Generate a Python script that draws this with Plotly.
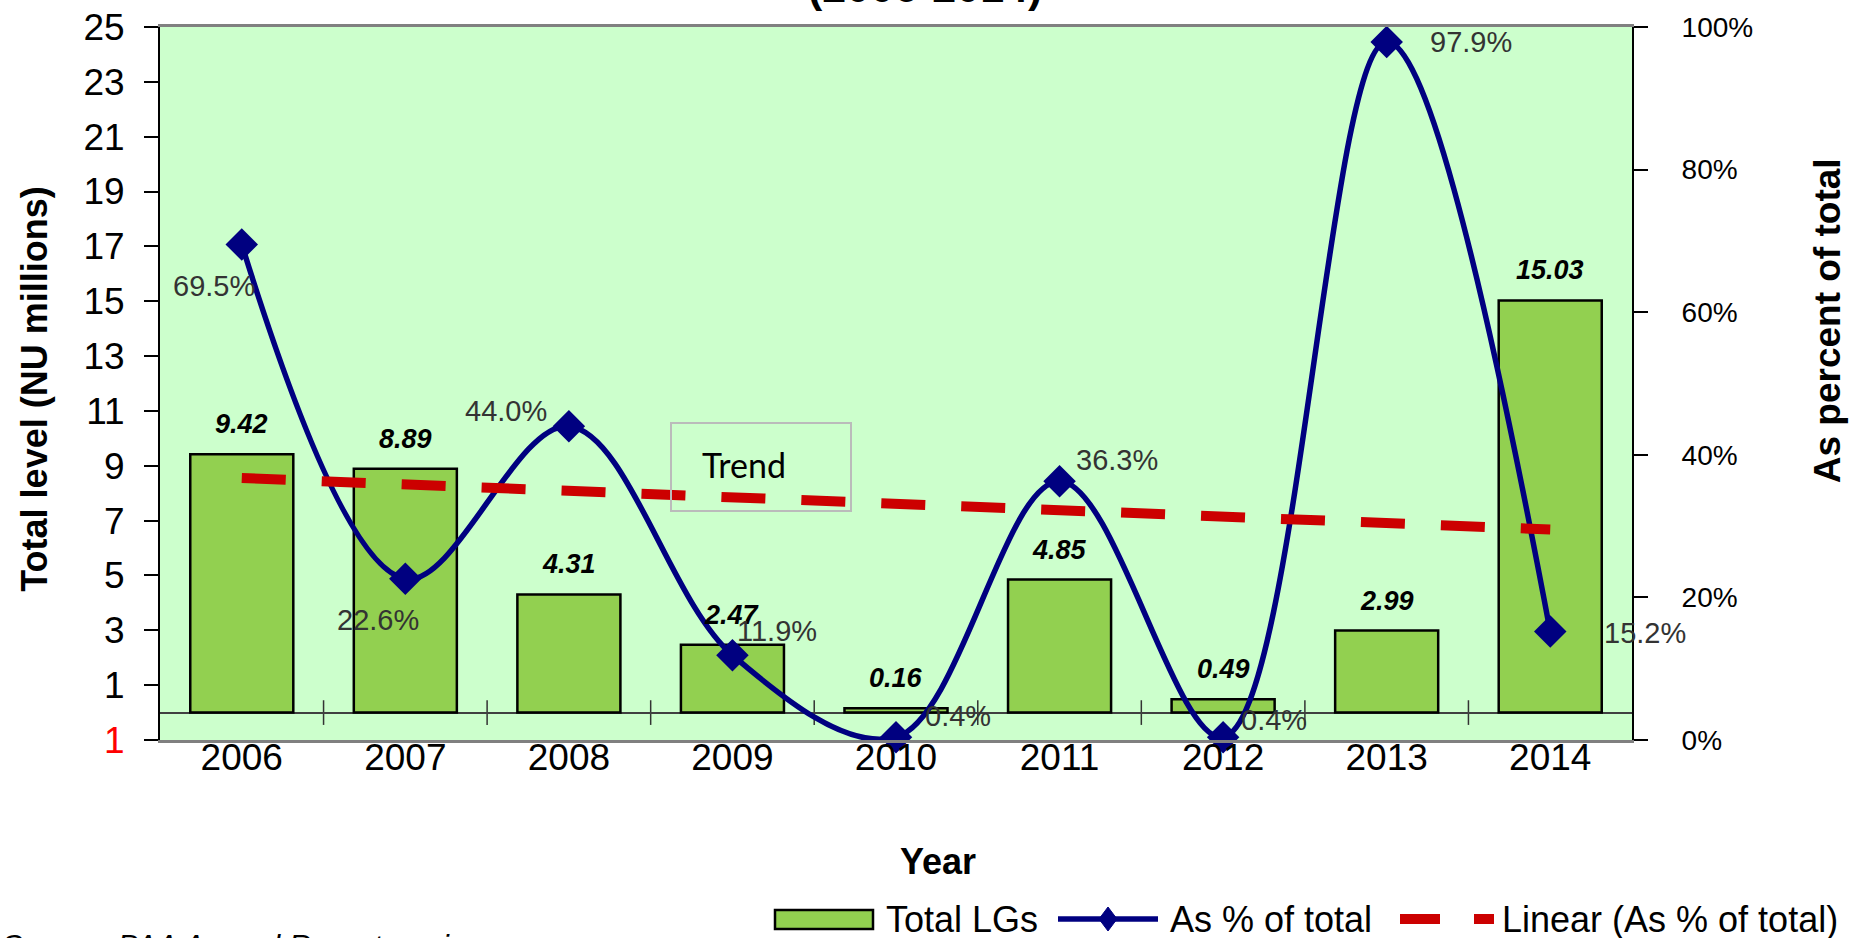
import numpy as np
import plotly.graph_objects as go

years = ["2006", "2007", "2008", "2009", "2010", "2011", "2012", "2013", "2014"]
total_lgs = [9.42, 8.89, 4.31, 2.47, 0.16, 4.85, 0.49, 2.99, 15.03]
pct_of_total = [0.695, 0.226, 0.440, 0.119, 0.004, 0.363, 0.004, 0.979, 0.152]
pct_labels = ["69.5%", "22.6%", "44.0%", "11.9%", "0.4%", "36.3%", "0.4%", "97.9%", "15.2%"]
bar_labels = ["9.42", "8.89", "4.31", "2.47", "0.16", "4.85", "0.49", "2.99", "15.03"]
series_names = ["Total LGs", "As % of total", "Linear (As % of total)"]
left_tickvals = [-1, 1, 3, 5, 7, 9, 11, 13, 15, 17, 19, 21, 23, 25]
left_ticktext = ["<span style='color:#FF0000'>1</span>"] + [str(v) for v in left_tickvals[1:]]
right_tickvals = [0, 0.2, 0.4, 0.6, 0.8, 1.0]

# linear trend of the percentage series (Excel-style linear trendline)
xi = np.arange(len(years))
slope, intercept = np.polyfit(xi, pct_of_total, 1)
trend = list(intercept + slope * xi)

# label offsets (pixels) for the percentage labels
pct_dx = [-28, -27, -63, 45, 62, 57, 51, 84, 95]
pct_dy = [-42, -41, 15, 24, 21, 21, 17, 0, -1]

FONT = "Liberation Sans, Arial, sans-serif"
W, H = 1862, 938
ML, MR, MT, MB = 160, 230, 27, 198
PW, PH = W - ML - MR, H - MT - MB

def px_x(p):
    return (p - ML) / PW

def px_y(p):
    return (H - MB - p) / PH

GREEN, NAVY, RED = "#92D050", "#000080", "#CC0000"

fig = go.Figure()
fig.add_trace(go.Bar(
    x=years, y=total_lgs, name=series_names[0], showlegend=False,
    marker=dict(color=GREEN, line=dict(color="#000000", width=2.5)),
    width=0.63, yaxis="y",
))
fig.add_trace(go.Scatter(
    x=years, y=pct_of_total, name=series_names[1], yaxis="y2", showlegend=False,
    mode="lines+markers", line=dict(color=NAVY, width=5.5, shape="spline", smoothing=1.0),
    marker=dict(symbol="diamond", size=25, color=NAVY),
    cliponaxis=False,
))
fig.add_trace(go.Scatter(
    x=years, y=trend, name=series_names[2], yaxis="y2", showlegend=False,
    mode="lines", line=dict(color=RED, width=10, dash="44px,36px"),
))

annotations = []
for i, (v, t) in enumerate(zip(total_lgs, bar_labels)):
    annotations.append(dict(x=i, y=v, xref="x", yref="y", text="<b><i>%s</i></b>" % t,
                            showarrow=False, yanchor="middle", yshift=30,
                            font=dict(family=FONT, size=27, color="#000000")))
for i, (v, t, dx, dy) in enumerate(zip(pct_of_total, pct_labels, pct_dx, pct_dy)):
    annotations.append(dict(x=i, y=v, xref="x", yref="y2", text=t, showarrow=False,
                            xshift=dx, yshift=dy,
                            font=dict(family=FONT, size=29, color="#333333")))

# axis titles, title fragment, source note
annotations += [
    dict(text="<b>Total level (NU millions)</b>", textangle=-90, xref="paper", yref="paper",
         x=0, y=0.492, xshift=-148, showarrow=False, font=dict(family=FONT, size=36, color="#000")),
    dict(text="<b>As percent of total</b>", textangle=-90, xref="paper", yref="paper",
         x=1, y=0.588, xshift=218, showarrow=False, font=dict(family=FONT, size=37, color="#000")),
    dict(text="<b>Year</b>", xref="paper", yref="paper", x=px_x(938), y=px_y(861),
         xanchor="center", yanchor="middle",
         showarrow=False, font=dict(family=FONT, size=36, color="#000")),
    dict(text="<b>(2006-2014)</b>", xref="paper", yref="paper", x=0.52, y=1, yanchor="bottom",
         yshift=14, showarrow=False, font=dict(family=FONT, size=43, color="#000")),
    dict(text="<i>Source: PAA Annual Report, various years</i>", xref="paper", yref="paper",
         x=0, y=0, xanchor="left", yanchor="top", xshift=-160, yshift=-187,
         showarrow=False, font=dict(family=FONT, size=31, color="#000")),
    dict(text="Trend", xref="paper", yref="paper", x=px_x(700), y=px_y(464),
         xanchor="left", yanchor="middle", showarrow=False,
         font=dict(family="Lato, Open Sans, sans-serif", size=34, color="#000")),
]

shapes = [
    dict(type="rect", xref="paper", yref="paper",
         x0=px_x(671), x1=px_x(851), y0=px_y(511), y1=px_y(423),
         line=dict(color="#BBBBBB", width=2), fillcolor="rgba(0,0,0,0)"),
]
# category-boundary tick marks crossing the zero line
for i in range(len(years) - 1):
    shapes.append(dict(type="line", xref="x", yref="y", x0=i + 0.5, x1=i + 0.5,
                       y0=-0.45, y1=0.45, line=dict(color="#333333", width=1.5), layer="below"))

# legend (drawn as keys + text below the chart)
LEG_Y = 919
shapes += [
    dict(type="rect", xref="paper", yref="paper", x0=px_x(775), x1=px_x(873),
         y0=px_y(929), y1=px_y(910), fillcolor=GREEN, line=dict(color="#000", width=2.5)),
    dict(type="line", xref="paper", yref="paper", x0=px_x(1058), x1=px_x(1158),
         y0=px_y(LEG_Y), y1=px_y(LEG_Y), line=dict(color=NAVY, width=5.5)),
    dict(type="path", xref="paper", yref="paper", fillcolor=NAVY, line=dict(color=NAVY, width=1),
         path="M %f %f L %f %f L %f %f L %f %f Z" % (
             px_x(1108), px_y(LEG_Y - 12), px_x(1117), px_y(LEG_Y),
             px_x(1108), px_y(LEG_Y + 12), px_x(1099), px_y(LEG_Y))),
    dict(type="line", xref="paper", yref="paper", x0=px_x(1400), x1=px_x(1440),
         y0=px_y(LEG_Y), y1=px_y(LEG_Y), line=dict(color=RED, width=10)),
    dict(type="line", xref="paper", yref="paper", x0=px_x(1474), x1=px_x(1494),
         y0=px_y(LEG_Y), y1=px_y(LEG_Y), line=dict(color=RED, width=10)),
]
for name, xpos in zip(series_names, [884, 1168, 1500]):
    annotations.append(dict(text=name, xref="paper", yref="paper", x=px_x(xpos), y=px_y(LEG_Y),
                            xanchor="left", yanchor="middle", showarrow=False,
                            font=dict(family=FONT, size=36, color="#000")))

fig.update_layout(
    width=W, height=H,
    margin=dict(l=ML, r=MR, t=MT, b=MB, autoexpand=False),
    paper_bgcolor="#FFFFFF", plot_bgcolor="#CCFFCC",
    bargap=0.37,
    showlegend=False,
    xaxis=dict(type="category", range=[-0.5, 8.5], showgrid=False, showline=True, mirror=True,
               linecolor="#808080", linewidth=3, ticks="", ticklabelstandoff=-17,
               tickfont=dict(family=FONT, size=37, color="#000")),
    yaxis=dict(range=[-1, 25], tickvals=left_tickvals, ticktext=left_ticktext,
               showgrid=False, showline=True, linecolor="#000000", linewidth=2,
               ticks="outside", ticklen=14, tickwidth=2, tickcolor="#000",
               ticklabelstandoff=12,
               zeroline=True, zerolinecolor="#404040", zerolinewidth=1.5,
               tickfont=dict(family=FONT, size=37, color="#000")),
    yaxis2=dict(range=[0, 1], overlaying="y", side="right", tickvals=right_tickvals,
                tickformat=".0%", showgrid=False, zeroline=False, showline=True,
                linecolor="#000000", linewidth=2, ticks="outside", ticklen=14, tickwidth=2,
                tickcolor="#000", ticklabelstandoff=28,
                tickfont=dict(family=FONT, size=28, color="#000")),
    annotations=annotations,
    shapes=shapes,
)

fig.write_html("out.html")
